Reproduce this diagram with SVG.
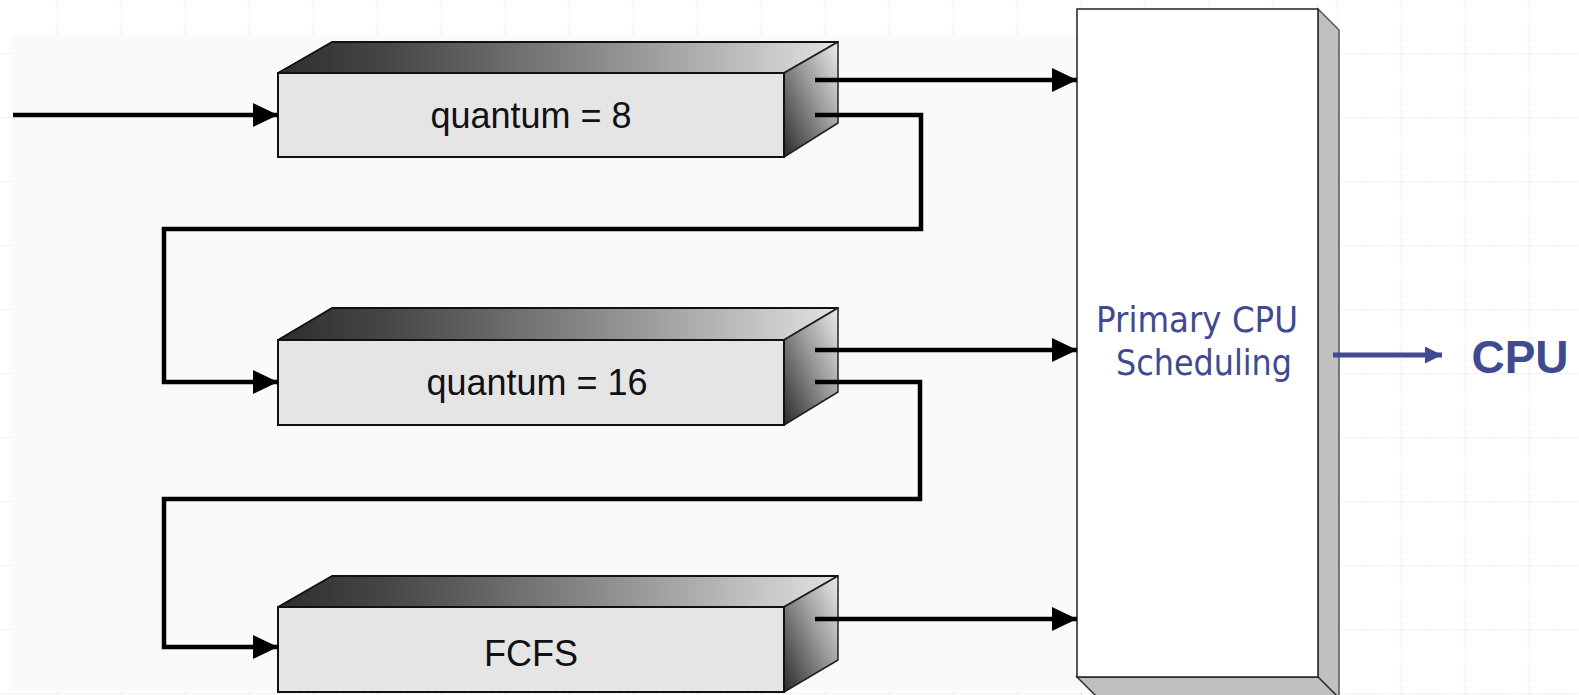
<svg xmlns="http://www.w3.org/2000/svg" width="1579" height="695" viewBox="0 0 1579 695">
<defs>
<pattern id="grid" x="57" y="53" width="64" height="64" patternUnits="userSpaceOnUse">
<path d="M0,0 V64 M0,0 H64" fill="none" stroke="#d6ddf6" stroke-width="1.2" stroke-dasharray="5 2"/>
</pattern>
<linearGradient id="topg" x1="278" y1="0" x2="838" y2="0" gradientUnits="userSpaceOnUse">
<stop offset="0" stop-color="#2e2e2e"/>
<stop offset="0.2" stop-color="#474747"/>
<stop offset="0.4" stop-color="#6a6a6c"/>
<stop offset="0.6" stop-color="#909090"/>
<stop offset="0.8" stop-color="#b8b8b8"/>
<stop offset="1" stop-color="#e2e2e2"/>
</linearGradient>
<linearGradient id="sideg" x1="1" y1="0" x2="0" y2="1">
<stop offset="0" stop-color="#ececec"/>
<stop offset="0.45" stop-color="#9a9a9c"/>
<stop offset="1" stop-color="#2a2a2a"/>
</linearGradient>
<marker id="ah" markerUnits="userSpaceOnUse" markerWidth="26" markerHeight="24" refX="25" refY="12" orient="auto">
<path d="M0,0 L25,12 L0,24 z" fill="#000"/>
</marker>
<marker id="ahb" markerUnits="userSpaceOnUse" markerWidth="18" markerHeight="18" refX="17" refY="8.5" orient="auto">
<path d="M0,0 L17,8.5 L0,17 z" fill="#414a8f"/>
</marker>
<style>
.front{fill:#e5e5e5;stroke:#111;stroke-width:2}
.top{fill:url(#topg);stroke:#111;stroke-width:2;stroke-linejoin:round}
.side{fill:url(#sideg);stroke:#222;stroke-width:1.5;stroke-linejoin:round}
.lbl{font-family:"Liberation Sans",Arial,sans-serif;font-size:36px;fill:#111;text-anchor:middle}
.conn{fill:none;stroke:#000;stroke-width:4.5}
.blue{font-family:"DejaVu Sans",Verdana,sans-serif;font-size:35px;fill:#414a8f;text-anchor:middle}
</style>
</defs>
<rect width="1579" height="695" fill="#fff"/>
<rect width="1579" height="695" fill="url(#grid)"/>
<rect x="12" y="35" width="1070" height="657" fill="#fafafa"/>

<g id="queue1">
<polygon class="top" points="278,73 332,42 838,42 784,73"/>
<polygon class="side" points="784,73 838,42 838,123 784,157"/>
<rect class="front" x="278" y="73" width="506" height="84"/>
<text class="lbl" x="531" y="128">quantum = 8</text>
</g>
<g id="queue2">
<polygon class="top" points="278,340 332,308 838,308 784,340"/>
<polygon class="side" points="784,340 838,308 838,392 784,425"/>
<rect class="front" x="278" y="340" width="506" height="85"/>
<text class="lbl" x="537" y="395">quantum = 16</text>
</g>
<g id="queue3">
<polygon class="top" points="278,607 332,576 838,576 784,607"/>
<polygon class="side" points="784,607 838,576 838,660 784,692"/>
<rect class="front" x="278" y="607" width="506" height="85"/>
<text class="lbl" x="531" y="666">FCFS</text>
</g>

<g id="scheduler">
<polygon points="1318,9 1339,30 1339,698 1318,677" fill="#c0c0c0" stroke="#555" stroke-width="1.5"/>
<polygon points="1077,677 1318,677 1339,698 1098,698" fill="#c0c0c0" stroke="#333" stroke-width="1.5"/>
<rect x="1077" y="9" width="241" height="668" fill="#fff" stroke="#222" stroke-width="1.5"/>
<text class="blue" x="1197" y="332" textLength="202" lengthAdjust="spacingAndGlyphs">Primary CPU</text>
<text class="blue" x="1204" y="375" textLength="176" lengthAdjust="spacingAndGlyphs">Scheduling</text>
</g>

<g id="cpu">
<text x="1520" y="373" font-family="'Liberation Sans',Arial,sans-serif" font-weight="bold" font-size="46" fill="#414a8f" text-anchor="middle">CPU</text>
</g>

<g id="connectors">
<path class="conn" d="M13,115 H278" marker-end="url(#ah)"/>
<path class="conn" d="M815,80 H1077" marker-end="url(#ah)"/>
<path class="conn" d="M815,115 H921 V229 H164 V382 H278" marker-end="url(#ah)"/>
<path class="conn" d="M815,350 H1077" marker-end="url(#ah)"/>
<path class="conn" d="M815,382 H920 V499 H164 V647 H278" marker-end="url(#ah)"/>
<path class="conn" d="M815,619 H1077" marker-end="url(#ah)"/>
<path d="M1333,355 H1442" fill="none" stroke="#414a8f" stroke-width="5" marker-end="url(#ahb)"/>
</g>
</svg>
